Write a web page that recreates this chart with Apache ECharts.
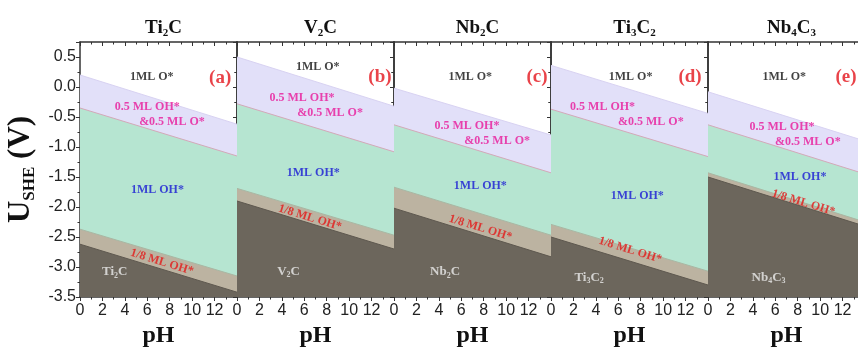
<!DOCTYPE html>
<html><head><meta charset="utf-8">
<script src="https://cdn.jsdelivr.net/npm/echarts@6/dist/echarts.min.js"></script>
<style>html,body{margin:0;padding:0;background:#fff}#c{width:858px;height:347px}</style>
</head><body><div id="c"></div>
<script>
// ---- data ----
const pH = [0, 14];
const titles = ['{b|Ti}{s|2}{b|C}', '{b|V}{s|2}{b|C}', '{b|Nb}{s|2}{b|C}', '{b|Ti}{s|3}{b|C}{s|2}', '{b|Nb}{s|4}{b|C}{s|3}'];
const matLabels = ['{m|Ti}{n|2}{m|C}', '{m|V}{n|2}{m|C}', '{m|Nb}{n|2}{m|C}', '{m|Ti}{n|3}{m|C}{n|2}', '{m|Nb}{n|4}{m|C}{n|3}'];
const tags = ['(a)', '(b)', '(c)', '(d)', '(e)'];
// boundaries: [U at pH 0, U at pH 14]
const limO    = [[0.20, -0.62], [0.50, -0.32], [-0.02, -0.80], [0.36, -0.44], [-0.08, -0.90]];
const limMix  = [[-0.35, -1.15], [-0.28, -1.08], [-0.63, -1.43], [-0.37, -1.16], [-0.63, -1.45]];
const limOH   = [[-2.37, -3.15], [-1.69, -2.47], [-1.67, -2.47], [-2.29, -3.07], [-1.43, -2.25]];
const limBare = [[-2.62, -3.42], [-1.90, -2.70], [-2.02, -2.83], [-2.50, -3.30], [-1.50, -2.32]];
// label anchors [pH, U]
const posO1  = [[6.4, 0.17], [7.2, 0.33], [6.8, 0.17], [7.1, 0.17], [6.8, 0.17]];
const posTag = [[12.5, 0.15], [12.75, 0.17], [12.75, 0.17], [12.4, 0.17], [12.3, 0.17]];
const posMixA = [[6.0, -0.33], [5.8, -0.18], [6.5, -0.65], [4.6, -0.33], [6.6, -0.67]];
const posMixB = [[8.2, -0.58], [8.3, -0.43], [9.2, -0.90], [8.9, -0.58], [8.9, -0.92]];
const posOH  = [[6.9, -1.72], [6.8, -1.43], [7.7, -1.65], [7.7, -1.82], [8.2, -1.50]];
const pos18  = [[7.3, -2.92], [6.5, -2.18], [7.7, -2.35], [7.05, -2.72], [8.5, -1.93]];
const posMat = [[3.1, -3.08], [4.6, -3.07], [4.55, -3.08], [3.4, -3.17], [5.4, -3.17]];
const xTicks = [0, 2, 4, 6, 8, 10, 12];

// ---- layout ----
const lefts = [80, 237, 394, 551, 708];
const W = 157, TOP = 42, H = 255;
const serif = '"Liberation Serif","Times New Roman",serif';
const sans = '"Liberation Sans",Arial,sans-serif';
const axisCol = '#333';

const grids = [], xAxes = [], yAxes = [], series = [], titleArr = [];
const bandCols = ['#e2e0f9', '#b6e5d1', '#bcb3a1', '#6c665c'];
const lineCols = ['#d8d2f2', '#d3a9b9', '#a9b7a3', '#5e584f'];

for (let i = 0; i < 5; i++) {
  grids.push({ left: lefts[i], top: TOP, width: W, height: H, show: false, containLabel: false, outerBoundsMode: 'none' });
  xAxes.push({
    gridIndex: i, type: 'value', min: 0, max: 14, interval: 2, position: 'bottom',
    axisLine: { show: true, onZero: false, lineStyle: { color: axisCol, width: 1.5 } },
    axisTick: { show: true, inside: false, length: 4, lineStyle: { color: axisCol } },
    minorTick: { show: true, splitNumber: 2, length: 2.5, lineStyle: { color: axisCol } },
    splitLine: { show: false },
    axisLabel: { show: true, fontSize: 16, fontFamily: sans, color: '#222', margin: 6,
      formatter: v => xTicks.indexOf(v) >= 0 ? String(v) : '' },
    name: 'pH', nameLocation: 'middle', nameGap: 27,
    nameTextStyle: { fontSize: 24, fontWeight: 'bold', fontFamily: serif, color: '#111' }
  });
  xAxes.push({
    gridIndex: i, type: 'value', min: 0, max: 14, interval: 2, position: 'top',
    axisLine: { show: true, onZero: false, lineStyle: { color: axisCol, width: 1.5 } },
    axisTick: { show: true, inside: true, length: 4, lineStyle: { color: axisCol } },
    minorTick: { show: true, splitNumber: 2, length: 2.5, lineStyle: { color: axisCol } },
    splitLine: { show: false }, axisLabel: { show: false }
  });
  yAxes.push({
    gridIndex: i, type: 'value', min: -3.5, max: 0.75, interval: 0.5, position: 'left',
    axisLine: { show: true, onZero: false, lineStyle: { color: axisCol, width: 1.5 } },
    axisTick: { show: true, inside: false, length: 4, lineStyle: { color: axisCol } },
    minorTick: { show: true, splitNumber: 2, length: 2.5, lineStyle: { color: axisCol } },
    splitLine: { show: false },
    axisLabel: { show: i === 0, fontSize: 16, fontFamily: sans, color: '#222', margin: 4,
      formatter: v => Math.abs(v * 2 - Math.round(v * 2)) < 1e-6 ? v.toFixed(1) : '' },
    name: i === 0 ? '{u|U}{s|SHE}{u| (V)}' : '', nameLocation: 'middle', nameRotate: 90, nameGap: 42,
    nameTextStyle: { rich: {
      u: { fontSize: 31, fontWeight: 'bold', fontFamily: serif, color: '#111', lineHeight: 34 },
      s: { fontSize: 17, fontWeight: 'bold', fontFamily: serif, color: '#111', lineHeight: 15, verticalAlign: 'bottom' }
    } }
  });
  yAxes.push({
    gridIndex: i, type: 'value', min: -3.5, max: 0.75, interval: 0.5, position: 'right',
    axisLine: { show: true, onZero: false, lineStyle: { color: axisCol, width: 1.5 } },
    axisTick: { show: true, inside: true, length: 4, lineStyle: { color: axisCol } },
    minorTick: { show: true, splitNumber: 2, length: 2.5, lineStyle: { color: axisCol } },
    splitLine: { show: false }, axisLabel: { show: false }
  });

  const bounds = [limO[i], limMix[i], limOH[i], limBare[i]];
  bounds.forEach((b, k) => {
    series.push({
      type: 'line', xAxisIndex: 2 * i, yAxisIndex: 2 * i, symbol: 'none', silent: true,
      data: [[pH[0], b[0]], [pH[1], b[1]]],
      lineStyle: { color: lineCols[k], width: 1 },
      areaStyle: { color: bandCols[k], opacity: 1, origin: 'start' },
      z: 2 + k
    });
  });

  const bold12 = { fontSize: 12, fontWeight: 'bold', fontFamily: serif };
  const lbl = (p, text, style) => ({ value: p, label: Object.assign({ show: true, position: 'inside', formatter: text }, style) });
  series.push({
    type: 'scatter', xAxisIndex: 2 * i, yAxisIndex: 2 * i, symbolSize: 0, silent: true, z: 10,
    data: [
      lbl(posO1[i], '1ML O*', Object.assign({ color: '#111' }, bold12)),
      lbl(posTag[i], tags[i], { color: '#e3141c', fontSize: 19, fontWeight: 'bold', fontFamily: serif }),
      lbl(posMixA[i], '0.5 ML OH*', Object.assign({ color: '#e8189a' }, bold12)),
      lbl(posMixB[i], '&0.5 ML O*', Object.assign({ color: '#e8189a' }, bold12)),
      lbl(posOH[i], '1ML OH*', Object.assign({ color: '#1818d4' }, bold12)),
      lbl(pos18[i], '1/8 ML OH*', Object.assign({ color: '#e31818', rotate: -17 }, bold12)),
      lbl(posMat[i], matLabels[i], { rich: {
        m: { fontSize: 13, fontFamily: serif, fontWeight: 'bold', color: '#ececec', lineHeight: 16 },
        n: { fontSize: 8, fontFamily: serif, fontWeight: 'bold', color: '#ececec', lineHeight: 8, verticalAlign: 'bottom' }
      } })
    ]
  });

  titleArr.push({
    text: titles[i], left: lefts[i] + W / 2, top: 12, textAlign: 'center',
    textStyle: { rich: {
      b: { fontSize: 19, fontWeight: 'bold', fontFamily: serif, color: '#111', lineHeight: 22 },
      s: { fontSize: 11, fontWeight: 'bold', fontFamily: serif, color: '#111', lineHeight: 10, verticalAlign: 'bottom' }
    } }
  });
}

const chart = echarts.init(document.getElementById('c'), null, { renderer: 'canvas' });
chart.setOption({
  backgroundColor: '#fff', animation: false,
  title: titleArr, grid: grids, xAxis: xAxes, yAxis: yAxes, series: series
});
</script></body></html>
